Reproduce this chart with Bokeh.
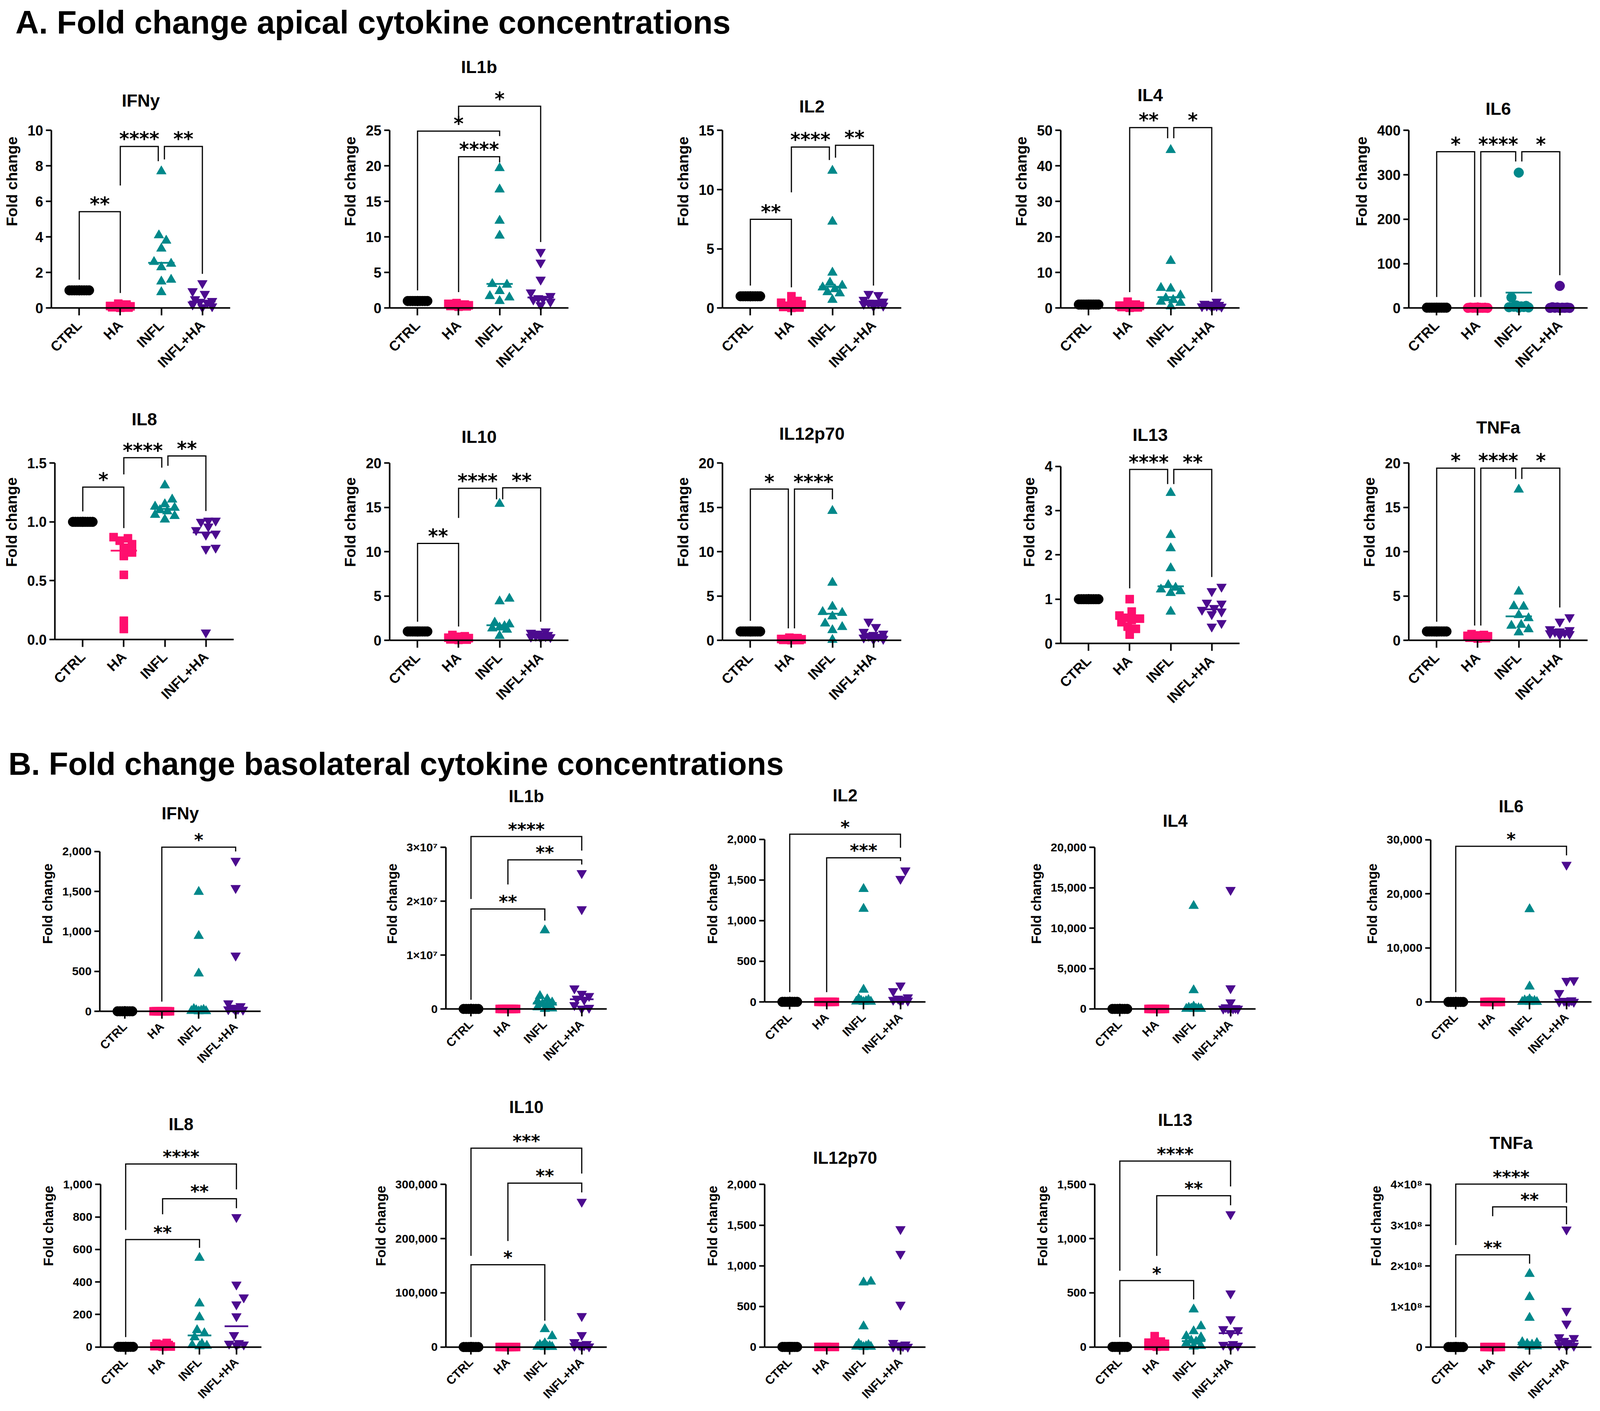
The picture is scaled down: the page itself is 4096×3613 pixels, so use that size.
import math
from bokeh.plotting import figure
from bokeh.layouts import row, column
from bokeh.models import Range1d, FixedTicker, LinearAxis
from bokeh.core.properties import value
from bokeh.embed import file_html
from bokeh.resources import INLINE

# ---------------------------------------------------------------- data
GROUPS = ["CTRL", "HA", "INFL", "INFL+HA"]
CTRL = [1.0, 1.0, 1.0, 1.0, 1.0, 1.0, 1.0, 1.0, 1.0, 1.0]

# ---- A. apical
A_IFNY_HA = [0.25, 0.2, 0.15, 0.12, 0.1, 0.08, 0.06, 0.05, 0.03, 0.02]
A_IFNY_INFL = [7.7, 4.1, 3.8, 3.35, 2.6, 2.5, 2.3, 1.6, 1.5, 0.9]
A_IFNY_INFLHA = [1.4, 0.95, 0.8, 0.5, 0.4, 0.35, 0.3, 0.2, 0.1, 0.05]
A_IFNY_LINE = [None, None, 2.55, 0.37]
A_IFNY_SIG = [(0, 1, 5.43, 1.6, 0.85, "**"), (1, 2, 9.1, 6.9, 8.27, "****"), (2, 3, 9.1, 8.37, 1.93, "**")]
A_IFNY_YT = [0, 2, 4, 6, 8, 10]
A_IFNY_YL = ["0", "2", "4", "6", "8", "10"]

A_IL1B_HA = [0.7, 0.6, 0.5, 0.45, 0.4, 0.35, 0.3, 0.3, 0.25, 0.2]
A_IL1B_INFL = [19.7, 16.7, 12.3, 10.2, 3.4, 3.3, 2.4, 1.7, 1.5, 1.0]
A_IL1B_INFLHA = [7.9, 6.4, 4.0, 2.2, 1.7, 1.4, 1.3, 1.2, 0.9, 0.4]
A_IL1B_LINE = [None, None, 3.4, 1.5]
A_IL1B_SIG = [(0, 2, 24.9, 2.5, 24.2, "*"), (1, 2, 21.3, 2.25, 20.5, "****"), (1, 3, 28.4, 26.1, 9.3, "*")]
A_IL1B_YT = [0, 5, 10, 15, 20, 25]
A_IL1B_YL = ["0", "5", "10", "15", "20", "25"]

A_IL2_HA = [1.0, 0.6, 0.45, 0.35, 0.3, 0.2, 0.15, 0.1, 0.05, 0.02]
A_IL2_INFL = [11.6, 7.3, 3.0, 2.15, 1.9, 1.75, 1.6, 1.35, 1.25, 0.7]
A_IL2_INFLHA = [1.2, 1.1, 0.7, 0.55, 0.45, 0.45, 0.4, 0.35, 0.2, 0.15]
A_IL2_LINE = [None, None, 1.8, 0.45]
A_IL2_SIG = [(0, 1, 7.5, 1.9, 1.75, "**"), (1, 2, 13.6, 9.77, 12.5, "****"), (2, 3, 13.75, 12.7, 1.9, "**")]
A_IL2_YT = [0, 5, 10, 15]
A_IL2_YL = ["0", "5", "10", "15"]

A_IL4_HA = [1.8, 1.0, 0.8, 0.7, 0.6, 0.5, 0.4, 0.3, 0.2, 0.1]
A_IL4_INFL = [44.5, 13.3, 5.7, 5.5, 3.6, 2.8, 2.3, 1.8, 1.5, 0.5]
A_IL4_INFLHA = [1.8, 1.2, 1.0, 0.9, 0.8, 0.7, 0.6, 0.5, 0.4, 0.3]
A_IL4_LINE = [None, None, 3.1, 0.7]
A_IL4_SIG = [(1, 2, 50.8, 4.5, 47.8, "**"), (2, 3, 50.8, 47.8, 4.5, "*")]
A_IL4_YT = [0, 10, 20, 30, 40, 50]
A_IL4_YL = ["0", "10", "20", "30", "40", "50"]

A_IL6_HA = [1.5, 1.2, 1.0, 0.9, 0.8, 0.7, 0.6, 0.5, 0.4, 0.3]
A_IL6_INFL = [305, 24, 6, 5, 4, 3, 2.5, 2, 1.5, 1.0]
A_IL6_INFLHA = [50, 2, 1.5, 1.2, 1.0, 0.8, 0.6, 0.5, 0.4, 0.3]
A_IL6_LINE = [None, None, 35, None]
A_IL6_SIG = [(0, 1, 352, 25, 25, "*"), (1, 2, 352, 25, 330, "****"), (2, 3, 352, 330, 74, "*")]
A_IL6_YT = [0, 100, 200, 300, 400]
A_IL6_YL = ["0", "100", "200", "300", "400"]

A_IL8_HA = [0.87, 0.86, 0.84, 0.81, 0.78, 0.74, 0.71, 0.55, 0.16, 0.09]
A_IL8_INFL = [1.31, 1.19, 1.15, 1.13, 1.12, 1.10, 1.09, 1.06, 1.05, 1.02]
A_IL8_INFLHA = [1.01, 1.01, 1.0, 0.96, 0.93, 0.90, 0.89, 0.78, 0.77, 0.06]
A_IL8_LINE = [None, 0.755, 1.11, 0.91]
A_IL8_SIG = [(0, 1, 1.295, 1.089, 0.947, "*"), (1, 2, 1.545, 1.403, 1.46, "****"), (2, 3, 1.56, 1.476, 1.092, "**")]
A_IL8_YT = [0, 0.5, 1.0, 1.5]
A_IL8_YL = ["0.0", "0.5", "1.0", "1.5"]

A_IL10_HA = [0.6, 0.45, 0.4, 0.3, 0.25, 0.2, 0.15, 0.1, 0.08, 0.05]
A_IL10_INFL = [15.4, 4.7, 4.4, 2.0, 1.8, 1.6, 1.45, 1.35, 1.2, 0.5]
A_IL10_INFLHA = [1.0, 0.85, 0.75, 0.6, 0.55, 0.5, 0.45, 0.4, 0.35, 0.3]
A_IL10_LINE = [None, None, 1.7, 0.52]
A_IL10_SIG = [(0, 1, 10.93, 2.1, 1.56, "**"), (1, 2, 17.15, 13.8, 15.9, "****"), (2, 3, 17.2, 15.9, 2.1, "**")]
A_IL10_YT = [0, 5, 10, 15, 20]
A_IL10_YL = ["0", "5", "10", "15", "20"]

A_IL12_HA = [0.3, 0.25, 0.2, 0.15, 0.12, 0.1, 0.08, 0.05, 0.03, 0.02]
A_IL12_INFL = [14.6, 6.5, 3.8, 3.2, 3.1, 2.7, 1.9, 1.5, 1.15, 0.05]
A_IL12_INFLHA = [2.1, 1.5, 0.95, 0.75, 0.6, 0.5, 0.4, 0.3, 0.15, 0.1]
A_IL12_LINE = [None, None, 3.0, 0.55]
A_IL12_SIG = [(0, 1, 17.06, 2.2, 1.35, "*"), (1, 2, 17.06, 1.35, 15.9, "****")]
A_IL12_YT = [0, 5, 10, 15, 20]
A_IL12_YL = ["0", "5", "10", "15", "20"]

A_IL13_HA = [1.0, 0.72, 0.63, 0.58, 0.56, 0.53, 0.48, 0.38, 0.33, 0.2]
A_IL13_INFL = [3.4, 2.45, 2.15, 1.7, 1.32, 1.26, 1.22, 1.18, 1.14, 0.72]
A_IL13_INFLHA = [1.28, 1.18, 0.92, 0.9, 0.8, 0.76, 0.72, 0.66, 0.46, 0.38]
A_IL13_LINE = [None, 0.55, 1.29, 0.77]
A_IL13_SIG = [(1, 2, 3.93, 1.245, 3.6, "****"), (2, 3, 3.93, 3.6, 1.5, "**")]
A_IL13_YT = [0, 1, 2, 3, 4]
A_IL13_YL = ["0", "1", "2", "3", "4"]

A_TNFA_HA = [0.7, 0.6, 0.55, 0.5, 0.45, 0.4, 0.35, 0.3, 0.25, 0.2]
A_TNFA_INFL = [17.0, 5.5, 3.85, 3.8, 2.85, 2.5, 1.75, 1.65, 1.25, 0.9]
A_TNFA_INFLHA = [2.6, 2.1, 1.25, 1.15, 1.0, 0.95, 0.85, 0.8, 0.7, 0.6]
A_TNFA_LINE = [None, None, 2.7, 1.0]
A_TNFA_SIG = [(0, 1, 19.42, 2.1, 1.67, "*"), (1, 2, 19.42, 1.67, 18.2, "****"), (2, 3, 19.42, 18.2, 3.7, "*")]
A_TNFA_YT = [0, 5, 10, 15, 20]
A_TNFA_YL = ["0", "5", "10", "15", "20"]

# ---- B. basolateral
B_HA_LOW = [1.6, 1.3, 1.1, 1.0, 1.0, 0.9, 0.8, 0.8, 0.7, 0.6]

B_IFNY_INFL = [1495, 944, 474, 30, 20, 15, 10, 5, 3, 1]
B_IFNY_INFLHA = [1883, 1542, 697, 100, 65, 45, 30, 25, 20, 10]
B_IFNY_LINE = [None, None, None, None]
B_IFNY_SIG = [(1, 3, 2054, 122, 2000, "*")]
B_IFNY_YT = [0, 500, 1000, 1500, 2000]
B_IFNY_YL = ["0", "500", "1,000", "1,500", "2,000"]

B_IL1B_INFL = [1.46e7, 2.4e6, 1.8e6, 1.4e6, 1.2e6, 9e5, 6e5, 3e5, 1e5, 2e4]
B_IL1B_INFLHA = [2.52e7, 1.85e7, 3.8e6, 2.8e6, 2.4e6, 1.9e6, 1.7e6, 7e5, 2e5, 5e4]
B_IL1B_LINE = [None, None, 1.1e6, 1.8e6]
B_IL1B_SIG = [(0, 2, 1.855e7, 1.7e6, 1.64e7, "**"), (1, 3, 2.767e7, 2.31e7, 2.68e7, "**"), (0, 3, 3.2e7, 2.04e7, 2.94e7, "****")]
B_IL1B_YT = [0, 10000000, 20000000, 30000000]
B_IL1B_YL = ["0", "1\u00d710\u2077", "2\u00d710\u2077", "3\u00d710\u2077"]

B_IL2_INFL = [1390, 1146, 151, 40, 25, 15, 10, 5, 3, 1]
B_IL2_INFLHA = [1617, 1513, 202, 132, 56, 40, 30, 25, 15, 10]
B_IL2_LINE = [None, None, None, None]
B_IL2_SIG = [(1, 3, 1773, 121, 1733, "***"), (0, 3, 2063, 121, 1896, "*")]
B_IL2_YT = [0, 500, 1000, 1500, 2000]
B_IL2_YL = ["0", "500", "1,000", "1,500", "2,000"]

B_IL4_INFL = [12760, 2320, 300, 150, 100, 60, 40, 20, 10, 5]
B_IL4_INFLHA = [14730, 2550, 810, 200, 100, 80, 50, 30, 20, 10]
B_IL4_LINE = [None, None, None, None]
B_IL4_SIG = []
B_IL4_YT = [0, 5000, 10000, 15000, 20000]
B_IL4_YL = ["0", "5,000", "10,000", "15,000", "20,000"]

B_IL6_INFL = [17160, 2860, 500, 300, 200, 100, 50, 30, 10, 5]
B_IL6_INFLHA = [25360, 4000, 3900, 1640, 300, 200, 100, 50, 20, 10]
B_IL6_LINE = [None, None, None, None]
B_IL6_SIG = [(0, 3, 28777, 1814, 27100, "*")]
B_IL6_YT = [0, 10000, 20000, 30000]
B_IL6_YL = ["0", "10,000", "20,000", "30,000"]

B_IL8_HA = [25, 20, 15, 12, 10, 8, 6, 5, 3, 2]
B_IL8_INFL = [549, 268, 183, 104, 85, 60, 20, 12, 8, 5]
B_IL8_INFLHA = [799, 384, 305, 262, 189, 73, 24, 20, 15, 10]
B_IL8_LINE = [None, None, 71, 128]
B_IL8_SIG = [(0, 2, 661, 61, 610, "**"), (1, 3, 912, 817, 854, "**"), (0, 3, 1126, 720, 970, "****")]
B_IL8_YT = [0, 200, 400, 600, 800, 1000]
B_IL8_YL = ["0", "200", "400", "600", "800", "1,000"]

B_IL10_INFL = [33000, 20000, 7000, 4000, 2000, 1500, 1000, 500, 200, 100]
B_IL10_INFLHA = [268000, 57000, 22000, 9000, 5500, 4000, 3000, 2000, 1000, 500]
B_IL10_LINE = [None, None, None, None]
B_IL10_SIG = [(0, 2, 151800, 18300, 48660, "*"), (1, 3, 302600, 195700, 285400, "**"), (0, 3, 367000, 168300, 320150, "***")]
B_IL10_YT = [0, 100000, 200000, 300000]
B_IL10_YL = ["0", "100,000", "200,000", "300,000"]

B_IL12_INFL = [805, 795, 255, 40, 25, 15, 10, 5, 3, 1]
B_IL12_INFLHA = [1450, 1145, 520, 50, 30, 20, 10, 5, 3, 2]
B_IL12_LINE = [None, None, None, None]
B_IL12_SIG = []
B_IL12_YT = [0, 500, 1000, 1500, 2000]
B_IL12_YL = ["0", "500", "1,000", "1,500", "2,000"]

B_IL13_HA = [100, 50, 40, 30, 25, 20, 15, 10, 5, 3]
B_IL13_INFL = [347, 192, 146, 100, 90, 60, 50, 35, 10, 5]
B_IL13_INFLHA = [1225, 494, 256, 165, 155, 128, 27, 20, 12, 5]
B_IL13_LINE = [None, None, 55, 128]
B_IL13_SIG = [(0, 2, 613, 91, 439, "*"), (1, 3, 1396, 841, 1308, "**"), (0, 3, 1716, 704, 1482, "****")]
B_IL13_YT = [0, 500, 1000, 1500]
B_IL13_YL = ["0", "500", "1,000", "1,500"]

B_TNFA_INFL = [1.80e8, 1.23e8, 7.2e7, 1.2e7, 1.0e7, 8e6, 6e6, 4e6, 2e6, 1e6]
B_TNFA_INFLHA = [2.89e8, 8.9e7, 5.75e7, 2.4e7, 2.2e7, 1.5e7, 1.0e7, 5e6, 3e6, 2e6]
B_TNFA_LINE = [None, None, 1.1e7, 1.5e7]
B_TNFA_SIG = [(0, 2, 2.27e8, 2.4e7, 2.05e8, "**"), (1, 3, 3.45e8, 3.22e8, 3.02e8, "**"), (0, 3, 4.01e8, 2.51e8, 3.55e8, "****")]
B_TNFA_YT = [0, 100000000, 200000000, 300000000, 400000000]
B_TNFA_YL = ["0", "1\u00d710\u2078", "2\u00d710\u2078", "3\u00d710\u2078", "4\u00d710\u2078"]

TITLE_A = "A. Fold change apical cytokine concentrations"
TITLE_B = "B. Fold change basolateral cytokine concentrations"

# ---------------------------------------------------------------- styles / layout
S = 0.942
FONT = "Liberation Sans"
STAR_FONT = "DejaVu Sans"
COLORS = ["#000000", "#ff0f6e", "#00888a", "#4c0b8f"]
MARKERS = ["circle", "square", "triangle", "inverted_triangle"]
MSIZE = {"circle": 25, "square": 21, "triangle": 25, "inverted_triangle": 25}
FS = {"A": dict(tick=36, xlab=36, axlab=39, title=45, star=49, half=27, xstand=17),
      "B": dict(tick=30, xlab=31, axlab=35, title=44, star=45, half=22, xstand=13)}
CAT_FULL = {"A": 111.6, "B": 100.4}
PAD_FULL = 22          # frame bottom below the lowest zero line of a row (reference px)
FRAME_TOP = 6


def P(sec, name, ha, infl, infha, line, sig, yt, yl, markers=None):
    return dict(sec=sec, name=name, data=[CTRL, ha, infl, infha], line=line,
                sig=sig, yt=yt, yl=yl, markers=markers or MARKERS)


ROWS = [
    dict(top=120, bottom=1060,
         axis=[139.5, 1058, 1963, 2882, 3828], y0=[837, 837, 837, 837, 837],
         h=[483, 483, 483, 483, 483], rise=[564, 655, 548, 579, 542],
         panels=[P("A", "IFNy", A_IFNY_HA, A_IFNY_INFL, A_IFNY_INFLHA, A_IFNY_LINE, A_IFNY_SIG, A_IFNY_YT, A_IFNY_YL),
                 P("A", "IL1b", A_IL1B_HA, A_IL1B_INFL, A_IL1B_INFLHA, A_IL1B_LINE, A_IL1B_SIG, A_IL1B_YT, A_IL1B_YL),
                 P("A", "IL2", A_IL2_HA, A_IL2_INFL, A_IL2_INFLHA, A_IL2_LINE, A_IL2_SIG, A_IL2_YT, A_IL2_YL),
                 P("A", "IL4", A_IL4_HA, A_IL4_INFL, A_IL4_INFLHA, A_IL4_LINE, A_IL4_SIG, A_IL4_YT, A_IL4_YL),
                 P("A", "IL6", A_IL6_HA, A_IL6_INFL, A_IL6_INFLHA, A_IL6_LINE, A_IL6_SIG, A_IL6_YT, A_IL6_YL,
                   markers=["circle", "circle", "circle", "circle"])]),
    dict(top=1060, bottom=1950,
         axis=[148.4, 1058, 1963, 2882, 3828], y0=[1738, 1740, 1740, 1748.6, 1740],
         h=[480, 482, 482, 481.6, 482], rise=[599, 553, 562, 567, 579],
         panels=[P("A", "IL8", A_IL8_HA, A_IL8_INFL, A_IL8_INFLHA, A_IL8_LINE, A_IL8_SIG, A_IL8_YT, A_IL8_YL),
                 P("A", "IL10", A_IL10_HA, A_IL10_INFL, A_IL10_INFLHA, A_IL10_LINE, A_IL10_SIG, A_IL10_YT, A_IL10_YL),
                 P("A", "IL12p70", A_IL12_HA, A_IL12_INFL, A_IL12_INFLHA, A_IL12_LINE, A_IL12_SIG, A_IL12_YT, A_IL12_YL),
                 P("A", "IL13", A_IL13_HA, A_IL13_INFL, A_IL13_INFLHA, A_IL13_LINE, A_IL13_SIG, A_IL13_YT, A_IL13_YL),
                 P("A", "TNFa", A_TNFA_HA, A_TNFA_INFL, A_TNFA_INFLHA, A_TNFA_LINE, A_TNFA_SIG, A_TNFA_YT, A_TNFA_YL)]),
    dict(top=2135, bottom=2975,
         axis=[271, 1211, 2077, 2975, 3887], y0=[2748.6, 2742, 2723, 2742, 2723],
         h=[434.6, 439.3, 442, 439, 441], rise=[538, 579, 562, 512, 532],
         panels=[P("B", "IFNy", B_HA_LOW, B_IFNY_INFL, B_IFNY_INFLHA, B_IFNY_LINE, B_IFNY_SIG, B_IFNY_YT, B_IFNY_YL),
                 P("B", "IL1b", B_HA_LOW, B_IL1B_INFL, B_IL1B_INFLHA, B_IL1B_LINE, B_IL1B_SIG, B_IL1B_YT, B_IL1B_YL),
                 P("B", "IL2", B_HA_LOW, B_IL2_INFL, B_IL2_INFLHA, B_IL2_LINE, B_IL2_SIG, B_IL2_YT, B_IL2_YL),
                 P("B", "IL4", B_HA_LOW, B_IL4_INFL, B_IL4_INFLHA, B_IL4_LINE, B_IL4_SIG, B_IL4_YT, B_IL4_YL),
                 P("B", "IL6", B_HA_LOW, B_IL6_INFL, B_IL6_INFLHA, B_IL6_LINE, B_IL6_SIG, B_IL6_YT, B_IL6_YL)]),
    dict(top=2975, bottom=3834,
         axis=[273, 1211, 2077, 2975, 3887], y0=[3661, 3661, 3661, 3661, 3661],
         h=[441.8, 441.8, 441.8, 441.8, 441.8], rise=[606, 652, 515, 617, 555],
         panels=[P("B", "IL8", B_IL8_HA, B_IL8_INFL, B_IL8_INFLHA, B_IL8_LINE, B_IL8_SIG, B_IL8_YT, B_IL8_YL),
                 P("B", "IL10", B_HA_LOW, B_IL10_INFL, B_IL10_INFLHA, B_IL10_LINE, B_IL10_SIG, B_IL10_YT, B_IL10_YL),
                 P("B", "IL12p70", B_HA_LOW, B_IL12_INFL, B_IL12_INFLHA, B_IL12_LINE, B_IL12_SIG, B_IL12_YT, B_IL12_YL),
                 P("B", "IL13", B_IL13_HA, B_IL13_INFL, B_IL13_INFLHA, B_IL13_LINE, B_IL13_SIG, B_IL13_YT, B_IL13_YL),
                 P("B", "TNFa", B_HA_LOW, B_TNFA_INFL, B_TNFA_INFLHA, B_TNFA_LINE, B_TNFA_SIG, B_TNFA_YT, B_TNFA_YL)]),
]

TOTAL_W = 4090
PAGE_X0 = 0      # the page is drawn from its top-left corner


def key(t):
    return int(t) if float(t).is_integer() else float(t)


def swarm(vals, ppu, d, half_w):
    order = sorted(range(len(vals)), key=lambda i: vals[i])
    step = d / 4.0
    cands = [0.0]
    k = 1
    while k * step <= half_w + 1e-9:
        cands += [k * step, -k * step]
        k += 1
    placed = []
    offs = [0.0] * len(vals)
    for i in order:
        py = vals[i] * ppu
        best = None
        for c in cands:
            if all((c - qx) ** 2 + (py - qy) ** 2 >= (0.92 * d) ** 2 for qx, qy in placed):
                best = c
                break
        if best is None:
            best = max(cands, key=lambda c: min((c - qx) ** 2 + (py - qy) ** 2 for qx, qy in placed))
        offs[i] = best
        placed.append((best, py))
    return offs


def leg_shifts(sig, ymax):
    res = []
    for (i, j, bar, li, lj, lab) in sig:
        dxi = dxj = 0.0
        for (k, m, b2, _a, _b, _c) in sig:
            if abs(b2 - bar) < 0.05 * ymax:
                if m == i:
                    dxi = 0.075
                if k == j:
                    dxj = -0.075
        res.append((i + dxi, j + dxj, bar, li, lj, lab))
    return res


def style_common(p):
    p.xgrid.visible = False
    p.ygrid.visible = False
    p.outline_line_color = None
    p.background_fill_color = "white"
    p.border_fill_color = "white"


def make_panel(spec, axis_full, y0_full, h_full, rise_full, fig_left, fig_w, band_top, band_h, fb):
    sec = spec["sec"]
    fs = FS[sec]
    fw = int(round(4.36 * CAT_FULL[sec] * S))
    cat_px = fw / 4.36
    mbl = int(round(axis_full * S - fig_left))
    mbr = fig_w - mbl - fw
    yt, yl = spec["yt"], spec["yl"]
    ymax = yt[-1]
    ppu = h_full * S / ymax
    y0_rel = y0_full * S - band_top
    ft = FRAME_TOP
    mbb = band_h - fb
    y_start = -(fb - y0_rel) / ppu
    y_end = (y0_rel - ft) / ppu
    # keep the category labels at the same distance below this panel's own zero line
    lift = int(round(fb - (y0_rel + PAD_FULL * S)))

    p = figure(width=fig_w, height=band_h, x_range=Range1d(-0.68, 3.68),
               y_range=Range1d(y_start, y_end), output_backend="svg",
               toolbar_location=None, tools="",
               min_border_left=mbl, min_border_right=mbr,
               min_border_top=ft, min_border_bottom=mbb)
    style_common(p)

    # category labels: a plain axis along the frame bottom, without line or ticks
    xl = p.xaxis[0]
    xl.ticker = FixedTicker(ticks=[0, 1, 2, 3])
    xl.major_label_overrides = {0: GROUPS[0], 1: GROUPS[1], 2: GROUPS[2], 3: GROUPS[3]}
    xl.major_label_orientation = math.pi / 4
    xl.axis_line_color = None
    xl.major_tick_line_color = None
    xl.minor_tick_line_color = None
    xl.major_tick_out = 0
    xl.major_tick_in = 0
    xl.minor_tick_out = 0
    xl.minor_tick_in = 0
    xl.major_label_standoff = fs["xstand"] - lift
    xl.major_label_text_font = FONT
    xl.major_label_text_font_style = "bold"
    xl.major_label_text_font_size = f"{fs['xlab']}px"
    xl.major_label_text_color = "black"

    # the x axis line with its ticks, sitting on y = 0
    xz = LinearAxis(ticker=FixedTicker(ticks=[0, 1, 2, 3]), fixed_location=0,
                    major_label_overrides={0: "", 1: "", 2: "", 3: ""},
                    major_label_text_font_size="1px",
                    axis_line_width=4, major_tick_line_width=4,
                    major_tick_out=19, major_tick_in=0, minor_tick_out=0, minor_tick_in=0)
    p.add_layout(xz, "below")

    ya = p.yaxis[0]
    ya.ticker = FixedTicker(ticks=yt)
    ya.bounds = (0, ymax)
    ya.major_label_overrides = {key(t): l for t, l in zip(yt, yl)}
    ya.axis_line_width = 4
    ya.major_tick_line_width = 4
    ya.major_tick_out = 14
    ya.major_tick_in = 0
    ya.minor_tick_out = 0
    ya.minor_tick_in = 0
    ya.major_label_standoff = 7
    ya.major_label_text_font = FONT
    ya.major_label_text_font_style = "bold"
    ya.major_label_text_font_size = f"{fs['tick']}px"
    ya.major_label_text_color = "black"
    ya.axis_label = "Fold change"
    ya.axis_label_text_font = FONT
    ya.axis_label_text_font_style = "bold"
    ya.axis_label_text_font_size = f"{fs['axlab']}px"
    ya.axis_label_standoff = 15
    ya.axis_label_text_color = "black"

    # points
    for g in range(4):
        vals = spec["data"][g]
        mk = spec["markers"][g]
        size = MSIZE[mk]
        offs = swarm(vals, ppu, size, fs["half"])
        xs = [g + o / cat_px for o in offs]
        p.scatter(x=xs, y=vals, marker=mk, size=size, fill_color=COLORS[g],
                  line_color=COLORS[g], line_width=1)
    # centre lines (median / mean)
    for g in range(4):
        c = spec["line"][g]
        if c is not None:
            p.segment(x0=[g - 0.32], y0=[c], x1=[g + 0.32], y1=[c],
                      line_color=COLORS[g], line_width=4.5)
    # significance brackets
    sig = leg_shifts(spec["sig"], ymax)
    if sig:
        p.multi_line(xs=[[a, a, b, b] for a, b, bar, la, lb, lab in sig],
                     ys=[[la, bar, bar, lb] for a, b, bar, la, lb, lab in sig],
                     line_color="black", line_width=3, line_join="miter")
        p.text(x=[(a + b) / 2 for a, b, bar, la, lb, lab in sig],
               y=[bar + 29.2 / ppu for a, b, bar, la, lb, lab in sig],
               text=[lab for a, b, bar, la, lb, lab in sig],
               text_font=value(STAR_FONT), text_font_style="bold",
               text_font_size=f"{fs['star']}px", text_align="center",
               text_baseline="middle", y_offset=0.23 * fs["star"], text_color="black")
    # panel title
    p.text(x=[1.5], y=[rise_full * S / ppu], text=[spec["name"]],
           text_font=value(FONT), text_font_style="bold",
           text_font_size=f"{fs['title']}px", text_align="center",
           text_baseline="middle", text_color="black")
    return p


def header(text, top_page, bottom_full, x_page, center_page, size):
    h = int(round(bottom_full * S)) - top_page
    p = figure(width=TOTAL_W, height=h, x_range=Range1d(0, TOTAL_W), y_range=Range1d(0, h),
               output_backend="svg", toolbar_location=None, tools="",
               x_axis_location=None, y_axis_location=None, min_border=0,
               min_border_left=0, min_border_right=0, min_border_top=0, min_border_bottom=0)
    style_common(p)
    p.text(x=[x_page - PAGE_X0], y=[h - (center_page - top_page)], text=[text],
           text_font=value(FONT), text_font_style="bold", text_font_size=f"{size}px",
           text_align="left", text_baseline="middle", text_color="black")
    return p


def build_row(rw):
    band_top = int(round(rw["top"] * S))
    band_h = int(round(rw["bottom"] * S)) - band_top
    # frames in one Bokeh row share top and bottom borders
    fb = int(round(max(y * S - band_top for y in rw["y0"]) + PAD_FULL * S))
    lefts = [PAGE_X0] + [int(round(a * S)) - 190 for a in rw["axis"][1:]]
    rights = lefts[1:] + [PAGE_X0 + TOTAL_W]
    figs = []
    for k, spec in enumerate(rw["panels"]):
        figs.append(make_panel(spec, rw["axis"][k], rw["y0"][k], rw["h"][k], rw["rise"][k],
                               lefts[k], rights[k] - lefts[k], band_top, band_h, fb))
    return row(*figs, spacing=0)


hdrA = header(TITLE_A, 0, 120, 39, 57, 83)
hdrB = header(TITLE_B, int(round(1950 * S)), 2135, 21, 1955, 81)
layout = column(hdrA, build_row(ROWS[0]), build_row(ROWS[1]), hdrB,
                build_row(ROWS[2]), build_row(ROWS[3]), spacing=0)

open("out.html", "w").write(file_html(layout, INLINE))
